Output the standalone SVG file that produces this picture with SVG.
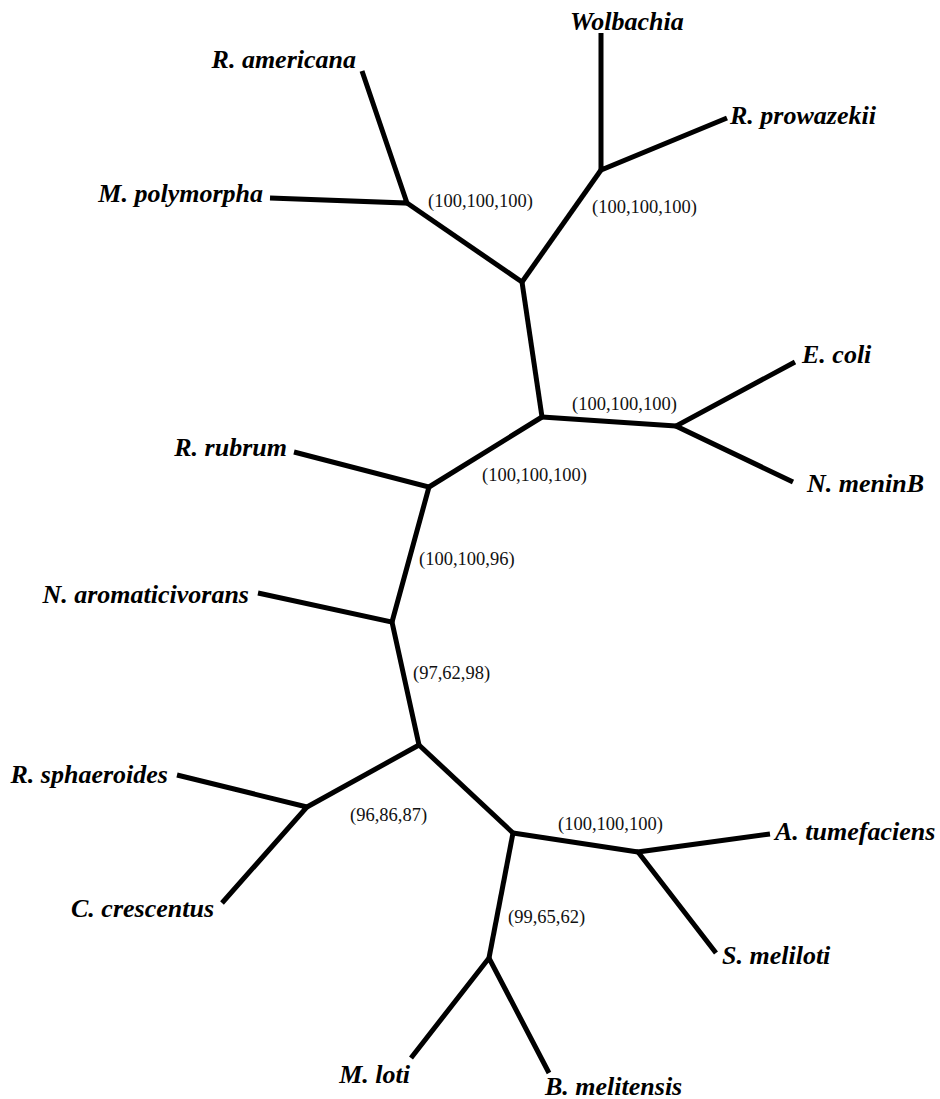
<svg xmlns="http://www.w3.org/2000/svg" width="940" height="1099" viewBox="0 0 940 1099">
<style>
.e{stroke:#000;stroke-width:5;stroke-linecap:butt;stroke-linejoin:miter;fill:none}
.t{font-family:"Liberation Serif","Times New Roman",serif;font-weight:bold;font-style:italic;font-size:26px;fill:#000}
.b{font-family:"Liberation Serif","Times New Roman",serif;font-size:18.5px;fill:#111}
.s{text-anchor:start}.n{text-anchor:end}
</style>
<rect width="940" height="1099" fill="#fff"/>
<g id="connectors">
<path class="e" d="M362,71 L407,203 L270,198"/>
<path class="e" d="M407,203 L522,282"/>
<path class="e" d="M601,33 L601,170 L727,118"/>
<path class="e" d="M601,170 L522,282"/>
<path class="e" d="M522,282 L542,417"/>
<path class="e" d="M542,417 L676,426"/>
<path class="e" d="M795,362 L676,426 L793,482"/>
<path class="e" d="M542,417 L429,487"/>
<path class="e" d="M294,452 L429,487 L392,622"/>
<path class="e" d="M258,593 L392,622 L419,745"/>
<path class="e" d="M419,745 L307,807"/>
<path class="e" d="M177,775 L307,807 L222,903"/>
<path class="e" d="M419,745 L513,833"/>
<path class="e" d="M513,833 L638,852"/>
<path class="e" d="M770,834 L638,852 L716,953"/>
<path class="e" d="M513,833 L489,958"/>
<path class="e" d="M411,1058 L489,958 L549,1073"/>
</g>
<g id="taxa">
<g id="wolbachia"><text class="t s" x="570" y="30">Wolbachia</text></g>
<g id="r-prowazekii"><text class="t s" x="730" y="124">R. prowazekii</text></g>
<g id="r-americana"><text class="t n" x="356" y="68">R. americana</text></g>
<g id="m-polymorpha"><text class="t n" x="263" y="202">M. polymorpha</text></g>
<g id="e-coli"><text class="t s" x="802" y="363">E. coli</text></g>
<g id="n-meninb"><text class="t s" x="807" y="492">N. meninB</text></g>
<g id="r-rubrum"><text class="t n" x="287" y="456">R. rubrum</text></g>
<g id="n-aromaticivorans"><text class="t n" x="249" y="603">N. aromaticivorans</text></g>
<g id="r-sphaeroides"><text class="t n" x="168" y="783">R. sphaeroides</text></g>
<g id="c-crescentus"><text class="t n" x="214" y="917">C. crescentus</text></g>
<g id="a-tumefaciens"><text class="t s" x="775" y="840">A. tumefaciens</text></g>
<g id="s-meliloti"><text class="t s" x="722" y="964">S. meliloti</text></g>
<g id="m-loti"><text class="t n" x="410" y="1083">M. loti</text></g>
<g id="b-melitensis"><text class="t s" x="545" y="1095">B. melitensis</text></g>
</g>
<g id="internal">
<g id="node-a"><text class="b" x="428" y="207">(100,100,100)</text></g>
<g id="node-b"><text class="b" x="592" y="213">(100,100,100)</text></g>
<g id="node-e"><text class="b" x="572" y="410">(100,100,100)</text></g>
<g id="node-d"><text class="b" x="482" y="481">(100,100,100)</text></g>
<g id="node-f"><text class="b" x="419" y="565">(100,100,96)</text></g>
<g id="node-g"><text class="b" x="413" y="679">(97,62,98)</text></g>
<g id="node-i"><text class="b" x="350" y="821">(96,86,87)</text></g>
<g id="node-k"><text class="b" x="558" y="830">(100,100,100)</text></g>
<g id="node-l"><text class="b" x="508" y="923">(99,65,62)</text></g>
</g>
</svg>
